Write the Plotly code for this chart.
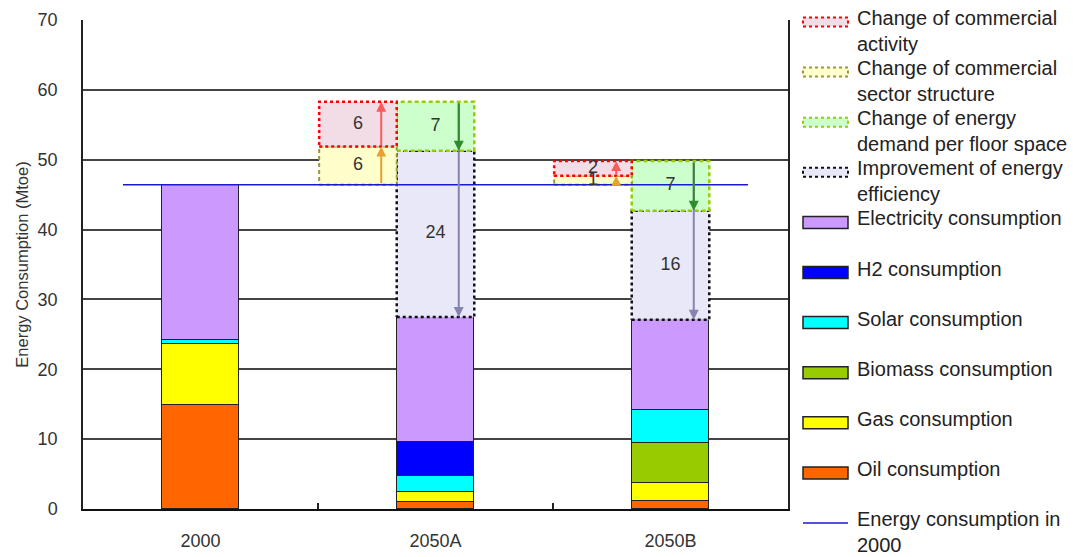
import plotly.graph_objects as go

# ---------------- data ----------------
categories = ["2000", "2050A", "2050B"]
oil = [14.9, 1.0, 1.2]
gas = [8.7, 1.4, 2.5]
biomass = [0.0, 0.0, 5.7]
solar = [0.6, 2.3, 4.8]
h2 = [0.0, 4.9, 0.0]
electricity = [22.2, 17.9, 12.9]

scenarios = ["2050A", "2050B"]
structure_change = [5.5, 1.3]
activity_change = [6.4, 2.1]
floor_space_change = [-7.0, -7.1]
efficiency_change = [-23.8, -15.6]

y_ticks = [0, 10, 20, 30, 40, 50, 60, 70]

legend_labels = [
    "Change of commercial<br>activity",
    "Change of commercial<br>sector structure",
    "Change of energy<br>demand per floor space",
    "Improvement of energy<br>efficiency",
    "Electricity consumption",
    "H2 consumption",
    "Solar consumption",
    "Biomass consumption",
    "Gas consumption",
    "Oil consumption",
    "Energy consumption in<br>2000",
]

# ---------------- styles ----------------
FONT = "Liberation Sans, Arial, sans-serif"
TXT = "#222222"
W = 0.33  # bar width in category units

C_OIL, C_GAS, C_BIO, C_SOL, C_H2, C_ELE = "#ff6600", "#ffff00", "#99cc00", "#00ffff", "#0000ff", "#cc99ff"
BOX = {
    "activity": dict(fill="#f2dce6", line="#ff0000", dash="dot", width=2.5),
    "structure": dict(fill="#ffffcc", line="#999933", dash="4px,3px", width=2),
    "floor": dict(fill="#ccffcc", line="#99cc00", dash="4px,3px", width=2.5),
    "eff": dict(fill="#e8e8f8", line="#111111", dash="3px,3px", width=2.5),
}
LINE_2000 = "#1a1acc"

pos = list(range(len(categories)))
e2000 = oil[0] + gas[0] + biomass[0] + solar[0] + h2[0] + electricity[0]

fig = go.Figure()

# stacked consumption bars
for name, vals, col in [
    ("Oil consumption", oil, C_OIL),
    ("Gas consumption", gas, C_GAS),
    ("Biomass consumption", biomass, C_BIO),
    ("Solar consumption", solar, C_SOL),
    ("H2 consumption", h2, C_H2),
    ("Electricity consumption", electricity, C_ELE),
]:
    fig.add_trace(go.Bar(
        x=pos, y=vals, width=W, name=name, showlegend=False,
        marker=dict(color=col, line=dict(color="#222222", width=1)),
    ))


def box(x0, x1, y0, y1, style, name):
    s = BOX[style]
    fig.add_trace(go.Scatter(
        x=[x0, x1, x1, x0, x0], y=[y0, y0, y1, y1, y0], mode="lines",
        fill="toself", fillcolor=s["fill"], name=name, showlegend=False,
        line=dict(color=s["line"], dash=s["dash"], width=s["width"]),
        hoverinfo="skip",
    ))


label_x, label_y, label_t = [], [], []
arrows = []
for j, sc in enumerate(scenarios):
    p = pos[categories.index(sc)]
    s0 = e2000
    s1 = s0 + structure_change[j]
    s2 = s1 + activity_change[j]
    f = s2 + floor_space_change[j]
    e = f + efficiency_change[j]
    lx0, lx1 = p - 1.5 * W, p - 0.5 * W
    rx0, rx1 = p - 0.5 * W, p + 0.5 * W
    box(rx0, rx1, e, f, "eff", "Improvement of energy efficiency")
    box(rx0, rx1, f, s2, "floor", "Change of energy demand per floor space")
    box(lx0, lx1, s0, s1, "structure", "Change of commercial sector structure")
    box(lx0, lx1, s1, s2, "activity", "Change of commercial activity")
    for xc, yc, v in [
        ((lx0 + lx1) / 2, (s0 + s1) / 2, structure_change[j]),
        ((lx0 + lx1) / 2, (s1 + s2) / 2, activity_change[j]),
        ((rx0 + rx1) / 2, (f + s2) / 2, floor_space_change[j]),
        ((rx0 + rx1) / 2, (e + f) / 2, efficiency_change[j]),
    ]:
        label_x.append(xc)
        label_y.append(yc)
        label_t.append(f"{abs(v):.0f}")
    la = p - 0.7 * W
    ra = p + 0.3 * W
    arrows += [
        (ra, s2, e, "#8484ac"),
        (ra, s2, f, "#2e8b2e"),
        (la, s0, s1, "#e8a030"),
        (la, s1, s2, "#ff5a5a"),
    ]

# 2000 reference line
fig.add_trace(go.Scatter(
    x=[pos[0] - W, pos[-1] + W], y=[e2000, e2000], mode="lines",
    line=dict(color=LINE_2000, width=1.5), name="Energy consumption in 2000",
    showlegend=False, hoverinfo="skip",
))

# value labels
fig.add_trace(go.Scatter(
    x=label_x, y=label_y, text=label_t, mode="text", showlegend=False,
    textfont=dict(family=FONT, size=18, color="#333333"), hoverinfo="skip",
))

annotations = []
for xa, ys, ye, col in arrows:
    annotations.append(dict(
        x=xa, y=ye, ax=xa, ay=ys, xref="x", yref="y", axref="x", ayref="y",
        text="", showarrow=True, arrowhead=2, arrowsize=1, arrowwidth=2,
        arrowcolor=col, standoff=0, startstandoff=0,
    ))

# ---------------- layout (viewport pixels; page body adds an 8px offset) ----------------
OFF = 8
FW, FH = 1085, 557
PL, PR, PT, PB = 83, 788, 20, 509


def px(xp):
    return (xp - PL) / (PR - PL)


def py(yp):
    return (PB - yp) / (PB - PT)


shapes = []
legend_styles = ["activity", "structure", "floor", "eff",
                 C_ELE, C_H2, C_SOL, C_BIO, C_GAS, C_OIL, "line"]
for i, (lab, st) in enumerate(zip(legend_labels, legend_styles)):
    yc = 22 + 50.1 * i
    if st in BOX:
        s = BOX[st]
        shapes.append(dict(type="rect", xref="paper", yref="paper",
                           x0=px(803), x1=px(848), y0=py(yc + 4.5), y1=py(yc - 4.5),
                           fillcolor=s["fill"],
                           line=dict(color=s["line"], dash="dot", width=2)))
    elif st == "line":
        shapes.append(dict(type="line", xref="paper", yref="paper",
                           x0=px(803), x1=px(848), y0=py(yc), y1=py(yc),
                           line=dict(color=LINE_2000, width=1.5)))
    else:
        shapes.append(dict(type="rect", xref="paper", yref="paper",
                           x0=px(803), x1=px(848), y0=py(yc + 6), y1=py(yc - 6),
                           fillcolor=st, line=dict(color="#222222", width=1.5)))
    l1 = yc - 3
    annotations.append(dict(
        x=px(855), y=py(l1 - 14), xref="paper", yref="paper",
        xanchor="left", yanchor="top", align="left", showarrow=False,
        text=lab, font=dict(family=FONT, size=20, color=TXT),
    ))

fig.update_layout(
    width=FW, height=FH,
    margin=dict(l=PL - OFF, r=FW - PR + OFF, t=PT - OFF, b=FH - PB + OFF, autoexpand=False),
    paper_bgcolor="white", plot_bgcolor="white",
    barmode="stack", bargap=0,
    showlegend=False,
    font=dict(family=FONT, color=TXT),
    shapes=shapes, annotations=annotations,
    xaxis=dict(
        range=[-0.5, 2.5], tickmode="array", tickvals=pos, ticktext=categories,
        ticks="", showgrid=False, zeroline=False, automargin=False,
        showline=True, linecolor="#111111", linewidth=2,
        tickfont=dict(family=FONT, size=18, color="#333333"),
        ticklabelstandoff=14,
        minor=dict(tickmode="array", tickvals=[0.5, 1.5], ticks="inside",
                   ticklen=6, tickwidth=1.5, tickcolor="#222222", showgrid=False),
    ),
    yaxis=dict(
        range=[0, 70], tickmode="array", tickvals=y_ticks, ticks="",
        showgrid=True, gridcolor="#444444", gridwidth=1.5, zeroline=False,
        showline=True, linecolor="#222222", linewidth=1.5, mirror=True,
        automargin=False,
        tickfont=dict(family=FONT, size=18, color="#333333"),
        ticklabelstandoff=20,
        title=dict(text="Energy Consumption (Mtoe)", standoff=5,
                   font=dict(family=FONT, size=16.5, color="#333333")),
    ),
)

fig.write_html("out.html")
